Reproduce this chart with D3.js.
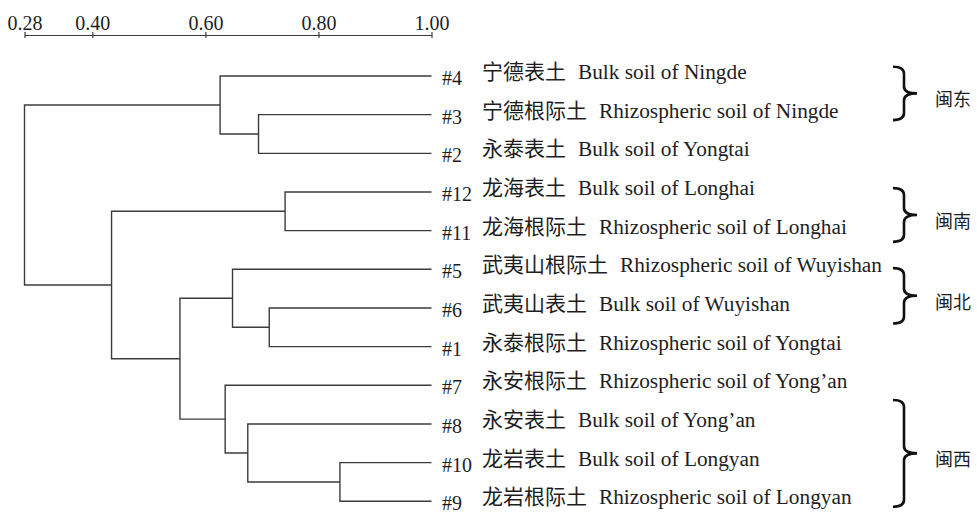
<!DOCTYPE html>
<html>
<head>
<meta charset="utf-8">
<script src="https://cdn.jsdelivr.net/npm/d3@7"></script>
<style>
  html, body { margin: 0; padding: 0; background: #fff; }
  svg { display: block; }
  .serif { font-family: "Liberation Serif", "Times New Roman", Times, "DejaVu Serif", serif; }
  .cjk { font-family: "Noto Sans CJK SC", "Noto Sans CJK JP", sans-serif; }
</style>
</head>
<body>
<svg id="chart" width="977" height="516"></svg>
<script>
// ---------------- data ----------------
const leafIds = ["#4", "#3", "#2", "#12", "#11", "#5", "#6", "#1", "#7", "#8", "#10", "#9"];
const leafCn = ["宁德表土", "宁德根际土", "永泰表土", "龙海表土", "龙海根际土", "武夷山根际土",
                "武夷山表土", "永泰根际土", "永安根际土", "永安表土", "龙岩表土", "龙岩根际土"];
const leafEn = ["Bulk soil of Ningde", "Rhizospheric soil of Ningde", "Bulk soil of Yongtai",
                "Bulk soil of Longhai", "Rhizospheric soil of Longhai", "Rhizospheric soil of Wuyishan",
                "Bulk soil of Wuyishan", "Rhizospheric soil of Yongtai", "Rhizospheric soil of Yong\u2019an",
                "Bulk soil of Yong\u2019an", "Bulk soil of Longyan", "Rhizospheric soil of Longyan"];

// clustering merges (similarity coefficient at which two clusters join)
const mergeIds  = ["N1", "N2", "N3", "N4", "N5", "N6", "N7", "N8", "N9", "N10", "N11"];
const mergeA    = ["#10", "#12", "#6", "#3", "#8", "#5", "#7", "#4", "N6", "N2", "N8"];
const mergeB    = ["#9", "#11", "#1", "#2", "N1", "N3", "N5", "N4", "N7", "N9", "N10"];
const mergeSim  = [0.838, 0.741, 0.713, 0.694, 0.675, 0.648, 0.635, 0.626, 0.555, 0.434, 0.280];

const tickValues = [0.28, 0.40, 0.60, 0.80, 1.00];

// region braces (span in leaf-row units)
const groupNames = ["闽东", "闽南", "闽北", "闽西"];
const groupStart = [-0.24, 2.90, 4.97, 8.38];
const groupEnd   = [1.14, 4.29, 6.40, 11.14];

// ---------------- layout ----------------
const svg = d3.select("#chart");
const lineColor = "#3c3c3c";
const textColor = "#1e1e1e";

const x = d3.scaleLinear().domain([0.28, 1.00]).range([24.5, 431.5]);
const rowY = d3.scaleLinear().domain([0, leafIds.length - 1]).range([76, 501.3]);

// build tree
const nodes = {};
leafIds.forEach((id, i) => { nodes[id] = { id, sim: 1.0, row: i }; });
mergeIds.forEach((id, i) => {
  nodes[id] = { id, sim: mergeSim[i], children: [nodes[mergeA[i]], nodes[mergeB[i]]] };
});
const root = d3.hierarchy(nodes[mergeIds[mergeIds.length - 1]]);
root.eachAfter(n => {
  n.px = x(n.data.sim);
  if (n.children) n.py = d3.mean(n.children, c => c.py);
  else n.py = rowY(n.data.row);
});

// axis
const axis = d3.axisTop(x)
  .tickValues(tickValues)
  .tickFormat(d3.format(".2f"))
  .tickSizeInner(3)
  .tickSizeOuter(0)
  .tickPadding(2);
const gAxis = svg.append("g").attr("transform", "translate(0,35)").call(axis);
gAxis.attr("font-family", null).attr("font-size", null);
gAxis.select(".domain").attr("stroke", lineColor).attr("stroke-width", 1.2);
gAxis.selectAll(".tick line").attr("stroke", lineColor).attr("y1", 3).attr("y2", -3).attr("stroke-width", 1.2);
gAxis.selectAll(".tick text")
  .attr("class", "serif")
  .attr("fill", textColor)
  .attr("font-size", 20);

// dendrogram links
const gTree = svg.append("g")
  .attr("fill", "none")
  .attr("stroke", lineColor)
  .attr("stroke-width", 1.4);
root.descendants().filter(n => n.children).forEach(n => {
  const [a, b] = n.children;
  gTree.append("path")
    .attr("d", `M${a.px},${a.py}H${n.px}V${b.py}H${b.px}`);
});

// leaf labels
const leaves = root.leaves();
const gLab = svg.append("g").attr("fill", textColor);
leaves.forEach(l => {
  const i = l.data.row;
  gLab.append("text")
    .attr("class", "serif")
    .attr("x", 442)
    .attr("y", l.py + 9)
    .attr("font-size", 20)
    .text(leafIds[i]);
  const t = gLab.append("text")
    .attr("x", 482)
    .attr("y", l.py + 3);
  t.append("tspan")
    .attr("class", "cjk")
    .attr("font-size", 21)
    .text(leafCn[i]);
  t.append("tspan")
    .attr("class", "serif")
    .attr("dx", 12)
    .attr("font-size", 21.3)
    .text(leafEn[i]);
});

// braces
const gBr = svg.append("g");
groupNames.forEach((name, i) => {
  const y0 = rowY(groupStart[i]);
  const y1 = rowY(groupEnd[i]);
  const ym = (y0 + y1) / 2;
  const x0 = 893, xv = 904, xt = 917, r = 7;
  gBr.append("path")
    .attr("d", `M${x0},${y0}Q${xv},${y0} ${xv},${y0 + r}L${xv},${ym - r}Q${xv},${ym} ${xt},${ym}` +
               `Q${xv},${ym} ${xv},${ym + r}L${xv},${y1 - r}Q${xv},${y1} ${x0},${y1}`)
    .attr("fill", "none")
    .attr("stroke", "#111")
    .attr("stroke-width", 2.6);
  gBr.append("text")
    .attr("class", "cjk")
    .attr("x", 935)
    .attr("y", ym + 13)
    .attr("fill", textColor)
    .attr("font-size", 18)
    .text(name);
});
</script>
</body>
</html>
